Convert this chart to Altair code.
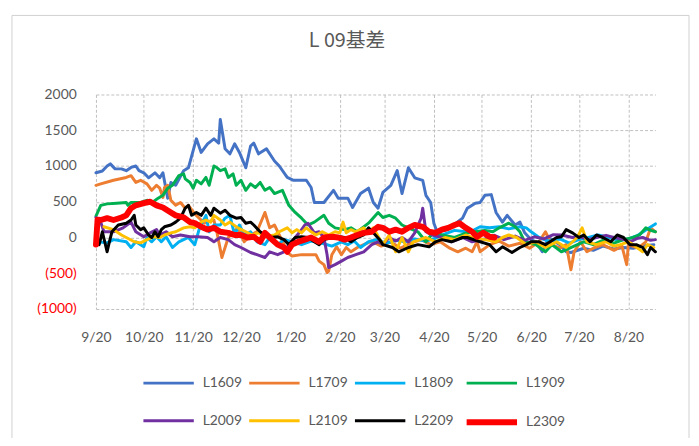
import altair as alt
import pandas as pd

series_names = ["L1609", "L1709", "L1809", "L1909", "L2009", "L2109", "L2209", "L2309"]
colors = ["#4472C4", "#ED7D31", "#00B0F0", "#00B050", "#7030A0", "#FFC000", "#000000", "#FF0000"]
widths = [3, 3, 3, 3, 3, 3, 3, 6]

# day offsets from 2022-09-20 and basis values
l1609_days = [0,4,7,9,12,16,19,22,25,27,30,33,37,40,42,45,47,50,55,58,63,66,70,74,77,78,81,84,87,90,94,97,99,102,107,112,115,120,124,127,132,135,137,143,149,152,158,161,166,171,174,177,180,185,189,192,196,200,205,207,210,212,214,219,223,230,233,238,241,244,248,251,255,258,263,266,269,273,276,280,284,291,295,298,306,312,318,325,331,337,343,350]
l1609_vals = [905,930,1000,1030,960,960,935,980,1000,935,905,835,905,835,905,550,770,730,935,975,1380,1190,1310,1380,1320,1650,1240,1170,1310,1190,975,1280,1320,1170,1240,1070,1000,840,800,800,800,700,490,490,660,550,550,420,615,690,490,410,630,730,935,615,975,835,800,590,490,200,80,100,150,270,410,480,490,590,600,350,215,310,175,215,65,-30,-60,-200,0,-100,-200,-210,-150,-180,-120,-160,-140,-150,-120,-100]

l1709_days = [0,3,11,19,22,25,28,32,35,38,40,42,43,45,47,50,53,56,58,62,68,74,76,79,83,89,93,97,101,106,109,112,115,118,120,123,129,135,138,140,143,145,146,148,151,154,157,160,164,168,173,179,185,191,197,204,210,216,222,227,232,236,239,241,247,253,259,266,272,278,282,286,291,295,298,300,304,308,312,318,325,330,333,334,340,345,348,351]
l1709_vals = [730,750,800,840,865,770,800,750,660,730,690,560,700,730,520,450,490,410,450,330,200,245,60,-280,0,135,-60,35,80,350,135,175,35,-100,-210,-260,-240,-240,-240,-330,-380,-490,-470,-240,-130,-240,-140,-200,-140,-100,-50,-120,-60,-150,-80,-30,-100,-60,-150,-200,-150,-200,-60,-200,-100,-50,-120,-80,-150,-60,80,-100,-150,-100,-450,-200,-60,-200,-150,-100,-180,-120,-380,-100,-150,-60,135,80]

l1809_days = [0,1,7,11,19,22,25,30,32,35,38,41,44,48,52,55,58,62,65,69,71,74,78,81,84,87,90,93,97,101,106,109,114,118,123,129,135,142,148,154,158,162,166,171,176,182,188,194,200,207,213,219,225,232,235,241,247,253,259,266,270,273,278,284,291,297,303,309,315,322,328,334,340,346,351]
l1809_vals = [0,-60,-75,-30,-60,-140,-60,-130,0,-60,10,-60,10,-140,-60,-30,0,-100,135,310,80,175,175,270,310,35,175,35,80,-60,-100,0,-100,-30,-60,-100,-50,-80,-120,-60,-100,-50,-140,-60,-30,-80,-40,-60,-20,-50,-10,50,100,80,80,150,135,150,120,150,135,80,0,-50,-20,-80,-30,0,35,0,-40,-20,30,120,190]

l1909_days = [0,3,7,13,19,20,22,28,32,36,39,42,45,48,52,55,56,59,61,63,66,69,71,74,76,78,81,83,86,88,91,94,97,100,103,106,109,112,117,121,125,129,133,137,143,146,150,156,160,164,171,177,180,184,188,192,196,202,207,212,217,225,232,238,244,249,253,259,263,266,269,276,282,286,292,300,306,312,318,325,331,337,341,345,348,351]
l1909_vals = [300,450,470,480,490,450,490,490,520,500,550,590,690,730,865,890,820,770,690,800,750,840,730,1000,975,935,960,840,890,730,800,660,750,700,770,660,700,615,660,450,350,270,175,215,310,200,135,110,135,80,200,350,280,310,270,175,135,80,-60,80,35,0,60,80,100,80,135,200,150,80,-60,-100,-200,-100,-200,-120,-60,-100,-40,-80,-30,0,35,135,100,80]

l2009_days = [0,3,5,11,17,22,25,30,34,38,40,44,48,53,59,64,70,74,78,83,87,91,97,101,106,109,114,118,121,125,128,131,133,137,140,143,145,146,150,154,158,163,168,173,177,180,184,188,192,196,200,204,205,207,211,217,223,230,236,244,250,256,263,269,275,281,287,292,299,304,309,314,320,325,330,335,340,343,348,351]
l2009_vals = [280,215,80,80,135,215,80,10,65,110,35,80,10,35,10,10,0,-60,0,-30,-100,-140,-210,-240,-280,-200,-240,-200,-100,0,80,175,200,65,80,0,-240,-420,-380,-330,-280,-240,-200,-100,-60,-100,0,-50,0,-60,65,270,410,80,35,0,-60,0,-60,-20,30,-30,20,-40,10,-20,40,35,0,10,-30,0,30,0,-20,-60,-10,0,-40,-30]

l2109_days = [5,11,16,19,24,28,32,36,40,43,47,50,55,59,62,66,69,72,74,78,81,84,89,94,98,102,106,112,115,120,123,126,129,132,135,138,142,146,150,153,155,157,160,163,168,171,174,180,184,188,192,196,199,207,213,219,225,232,236,244,251,255,259,264,270,276,282,289,295,302,305,308,314,320,325,329,334,337,343,346,350]
l2109_vals = [150,110,35,0,-60,-75,-30,10,0,35,65,80,135,150,135,215,245,215,310,245,175,215,135,80,35,65,10,35,80,135,65,110,65,135,80,35,80,35,80,65,215,65,110,80,135,80,135,-100,35,-200,0,-200,-60,0,-60,0,-30,35,0,-30,-60,0,35,0,-100,-60,-140,-60,-140,0,135,-60,-100,-60,-120,-100,-60,-100,-200,-100,-140]

l2209_days = [0,2,4,7,8,10,14,19,22,24,25,28,30,33,35,37,39,41,43,47,50,53,56,58,60,63,66,69,72,74,78,81,84,88,91,94,97,99,103,106,109,114,118,121,125,129,133,137,140,143,148,153,156,160,164,168,171,174,178,180,186,190,196,202,209,213,217,223,230,233,241,247,251,255,261,266,270,273,278,282,289,292,295,299,303,306,310,314,318,323,327,331,335,339,343,346,348,351]
l2209_vals = [0,-100,80,-200,-100,80,175,200,245,310,175,110,135,35,0,80,10,110,150,175,215,270,410,450,310,350,310,410,310,410,340,380,310,270,280,200,215,175,80,35,0,10,-30,-100,0,10,0,-60,-100,-30,0,10,0,-60,0,35,135,65,-30,-100,-140,-200,-140,-100,-130,-60,-30,-60,0,0,-60,-100,-200,-130,-210,-140,-100,-60,-60,-100,0,10,110,65,0,35,-60,35,0,-60,35,0,-100,-100,-140,-240,-140,-200]

l2309_days = [0,1,3,7,11,16,19,22,25,30,34,38,42,47,50,55,59,62,66,70,74,78,83,87,91,95,99,103,106,109,114,118,120,123,127,131,135,140,143,148,152,156,160,164,168,173,177,180,184,188,192,196,200,205,209,213,217,221,225,228,232,236,239,243,247,250]
l2309_vals = [-100,250,245,270,245,280,310,410,450,480,500,450,420,350,310,280,215,200,150,110,135,80,65,35,35,0,10,-60,65,0,-100,-140,-200,-100,-60,-30,0,-60,0,10,0,-30,0,35,65,80,150,135,80,110,80,135,175,150,80,65,110,135,175,200,135,80,10,65,10,0]

y_ticks = [-1000, -500, 0, 500, 1000, 1500, 2000]

series_data = [
    ("L1609", l1609_days, l1609_vals),
    ("L1709", l1709_days, l1709_vals),
    ("L1809", l1809_days, l1809_vals),
    ("L1909", l1909_days, l1909_vals),
    ("L2009", l2009_days, l2009_vals),
    ("L2109", l2109_days, l2109_vals),
    ("L2209", l2209_days, l2209_vals),
    ("L2309", l2309_days, l2309_vals),
]

start = pd.Timestamp("2022-09-20")
rows = []
for name, days, vals in series_data:
    assert len(days) == len(vals), name
    for d, v in zip(days, vals):
        rows.append({
            "date": (start + pd.Timedelta(days=d)).strftime("%Y-%m-%dT%H:%M:%S"),
            "series": name,
            "value": v,
        })
df = pd.DataFrame(rows)

tick_dates = [alt.DateTime(year=2022 + (1 if m < 9 else 0), month=m, date=20)
              for m in [9, 10, 11, 12, 1, 2, 3, 4, 5, 6, 7, 8]]

FONT = "Lato"
GREY = "#595959"

legend = alt.Legend(
    title=None, orient="none", legendX=45, legendY=265, direction="horizontal",
    columns=4, symbolType="stroke", symbolSize=2600, labelFontSize=14,
    labelColor=GREY, labelFont=FONT, columnPadding=1, rowPadding=4, labelOffset=6,
)

lines = alt.Chart(df).mark_line(strokeJoin="round", strokeCap="round").encode(
    x=alt.X("date:T",
            scale=alt.Scale(domain=[alt.DateTime(year=2022, month=9, date=20),
                                    alt.DateTime(year=2023, month=9, date=6)]),
            axis=alt.Axis(title=None, values=tick_dates, format="%-m/%-d",
                          labelFontSize=14, labelColor=GREY, labelFont=FONT,
                          labelPadding=22, labelOverlap=False, labelFlush=False,
                          ticks=False, domain=False,
                          grid=True, gridDash=[3, 2], gridColor="#BFBFBF")),
    y=alt.Y("value:Q",
            scale=alt.Scale(domain=[-1000, 2000], nice=False),
            axis=alt.Axis(title=None, values=y_ticks,
                          labelExpr="datum.value < 0 ? '(' + format(-datum.value, 'd') + ')' : format(datum.value, 'd')",
                          labelColor=alt.condition("datum.value < 0", alt.value("#FF0000"), alt.value(GREY)),
                          labelFontSize=14, labelFont=FONT, labelPadding=20,
                          ticks=False, domain=False,
                          grid=True, gridDash=[3, 2], gridColor="#BFBFBF")),
    color=alt.Color("series:N", scale=alt.Scale(domain=series_names, range=colors), legend=legend),
    strokeWidth=alt.StrokeWidth("series:N", scale=alt.Scale(type="ordinal", domain=series_names, range=widths), legend=legend),
    detail="series:N",
)

frame = alt.Chart(pd.DataFrame({"f": [0]})).mark_rect(
    fillOpacity=0, stroke="#D0D0D0", strokeWidth=1
).encode(x=alt.value(-85), x2=alt.value(600), y=alt.value(-80), y2=alt.value(360))

chart = alt.layer(lines, frame).properties(
    width=566, height=217,
    autosize=alt.AutoSizeParams(type="none"),
    padding={"left": 89, "top": 85, "right": 36, "bottom": 128},
    title=alt.Title("L 09基差", fontSize=20, font="Noto Sans CJK SC", color=GREY,
                    fontWeight="normal", anchor="middle", baseline="alphabetic",
                    dx=-29, dy=52, offset=0),
).configure(background="white", view=alt.ViewConfig(stroke=None))

chart.save("out.html", embed_options={"renderer": "svg", "actions": False})
